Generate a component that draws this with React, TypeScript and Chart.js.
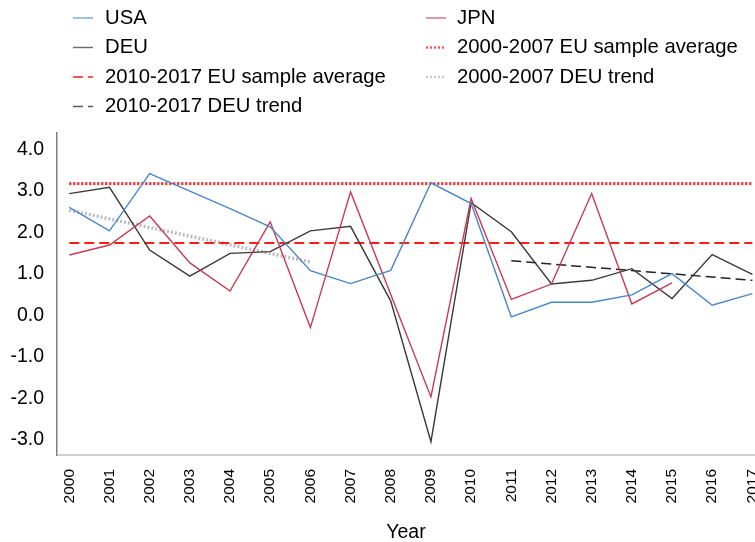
import React, { useEffect, useRef } from "react";
import { Chart, registerables } from "chart.js";

Chart.register(...registerables);

const years = [2000, 2001, 2002, 2003, 2004, 2005, 2006, 2007, 2008, 2009, 2010, 2011, 2012, 2013, 2014, 2015, 2016, 2017];
const usa = [2.6, 2.03, 3.41, 2.99, 2.57, 2.13, 1.07, 0.76, 1.08, 3.19, 2.69, -0.04, 0.31, 0.31, 0.49, 1.0, 0.24, 0.52];
const jpn = [1.45, 1.69, 2.39, 1.26, 0.58, 2.25, -0.3, 2.97, 0.5, -1.97, 2.81, 0.38, 0.75, 2.93, 0.27, 0.78];
const deu = [2.93, 3.08, 1.57, 0.94, 1.49, 1.53, 2.03, 2.14, 0.34, -3.05, 2.71, 2.01, 0.75, 0.84, 1.12, 0.4, 1.46, 0.98];

const euAvg0007 = 3.17;
const euAvg1017 = 1.74;
const avgLineYears = [2000, 2017];
const deuTrend0007Years = [2000, 2006];
const deuTrend0007Values = [2.53, 1.28];
const deuTrend1017Years = [2011, 2017];
const deuTrend1017Values = [1.31, 0.84];
const yTicks = [-3, -2, -1, 0, 1, 2, 3, 4];

const FONT = "'Liberation Sans', Arial, sans-serif";

const pts = (xs: number[], ys: number[]) => ys.map((v, i) => ({ x: xs[i], y: v }));

const legendPlugin = {
  id: "twoColLegend",
  afterDraw(chart: any) {
    const ctx = chart.ctx;
    const ds = chart.data.datasets;
    const cols = [
      { lx: 73, tx: 105 },
      { lx: 426, tx: 457 },
    ];
    const rowY = [18, 47.5, 77, 106.5];
    ctx.save();
    ctx.font = `20.3px ${FONT}`;
    ctx.textBaseline = "middle";
    ctx.textAlign = "left";
    ds.forEach((d: any, i: number) => {
      const c = cols[i % 2];
      const y = rowY[Math.floor(i / 2)];
      ctx.save();
      ctx.globalAlpha = 0.75;
      ctx.strokeStyle = d.borderColor;
      ctx.lineWidth = Math.min(d.borderWidth, 2.5);
      ctx.setLineDash(d.borderDash || []);
      ctx.beginPath();
      ctx.moveTo(c.lx, y);
      ctx.lineTo(c.lx + 20, y);
      ctx.stroke();
      ctx.restore();
      ctx.fillStyle = "#000";
      ctx.fillText(d.label, c.tx, y);
    });
    ctx.restore();
  },
};

export default function App() {
  const ref = useRef<HTMLCanvasElement>(null);
  useEffect(() => {
    document.body.style.margin = "0";
    const canvas = ref.current!;
    const line = (label: string, data: any[], color: string, width: number, dash: number[] = []) => ({
      label,
      data,
      borderColor: color,
      backgroundColor: color,
      borderWidth: width,
      borderDash: dash,
      pointRadius: 0,
      tension: 0,
      fill: false,
    });
    const chart = new Chart(canvas, {
      type: "line",
      data: {
        datasets: [
          line("USA", pts(years, usa), "#4a86c8", 1.4),
          line("JPN", pts(years, jpn), "#c83a50", 1.4),
          line("DEU", pts(years, deu), "#3a3a3a", 1.4),
          line("2000-2007 EU sample average", pts(avgLineYears, [euAvg0007, euAvg0007]), "#ff1a1a", 3, [2, 2]),
          line("2010-2017 EU sample average", pts(avgLineYears, [euAvg1017, euAvg1017]), "#ff1a1a", 2, [10, 5]),
          line("2000-2007 DEU trend", pts(deuTrend0007Years, deuTrend0007Values), "#bdbdbd", 3.5, [2, 2]),
          line("2010-2017 DEU trend", pts(deuTrend1017Years, deuTrend1017Values), "#222222", 1.5, [10, 5]),
        ],
      },
      options: {
        animation: false,
        responsive: false,
        devicePixelRatio: 1,
        layout: { padding: { top: 133, left: 0, right: 0, bottom: 0 } },
        plugins: { legend: { display: false }, tooltip: { enabled: false } },
        scales: {
          x: {
            type: "linear",
            min: 1999.694,
            max: 2017.065,
            grid: { display: false, drawTicks: false },
            border: { display: true, color: "#d0d0d0", width: 2 },
            afterBuildTicks: (s: any) => {
              s.ticks = years.map((v) => ({ value: v }));
            },
            afterFit: (s: any) => {
              s.height = 87;
              s.paddingLeft = 0;
              s.paddingRight = 0;
            },
            ticks: {
              autoSkip: false,
              minRotation: 90,
              maxRotation: 90,
              padding: 14,
              color: "#000",
              font: { family: FONT, size: 15.5 },
              callback: (v: any) => String(v),
            },
            title: {
              display: true,
              text: "Year",
              color: "#000",
              font: { family: FONT, size: 19.5, lineHeight: 1 },
              padding: { top: 0, bottom: 0 },
            },
          },
          y: {
            type: "linear",
            min: -3.37,
            max: 4.39,
            grid: { display: false, drawTicks: false },
            border: { display: true, color: "#808080", width: 1.5 },
            afterBuildTicks: (s: any) => {
              s.ticks = yTicks.map((v) => ({ value: v }));
            },
            afterFit: (s: any) => {
              s.width = 57;
              s.paddingTop = 0;
              s.paddingBottom = 0;
            },
            ticks: {
              padding: 13,
              color: "#000",
              font: { family: FONT, size: 19.5 },
              callback: (v: any) => Number(v).toFixed(1),
            },
          },
        },
      },
      plugins: [legendPlugin],
    });
    return () => chart.destroy();
  }, []);
  return (
    <div style={{ width: 755, height: 542 }}>
      <canvas ref={ref} width={755} height={542} style={{ width: 755, height: 542, display: "block" }} />
    </div>
  );
}
